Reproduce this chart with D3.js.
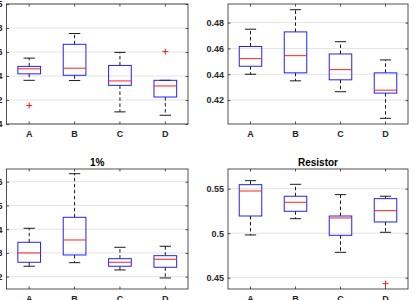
<!DOCTYPE html>
<html>
<head>
<meta charset="utf-8">
<script src="https://cdn.jsdelivr.net/npm/d3@7"></script>
<style>
  body { margin: 0; background: #fff; }
  svg { display: block; }
</style>
</head>
<body>
<svg id="chart" width="415" height="300"></svg>
<script>
// categories on every x axis
const categories = ["A", "B", "C", "D"];

// box stats per category: [lower whisker, q1, median, q3, upper whisker]
const topLeftStats = [
    [0.4364, 0.4418, 0.4460, 0.4480, 0.4549],
    [0.4362, 0.4406, 0.4465, 0.4664, 0.4754],
    [0.4101, 0.4322, 0.4359, 0.4488, 0.4597],
    [0.4073, 0.4225, 0.4317, 0.4364, 0.4364]
];
const topLeftOutliers = [["A", 0.4154], ["D", 0.4603]];
const topLeftTicks = [0.4, 0.42, 0.44, 0.46, 0.48, 0.5];
const topLeftRange = [0.4, 0.5];

const topRightStats = [
    [0.4400, 0.4462, 0.4521, 0.4615, 0.4749],
    [0.4349, 0.4411, 0.4544, 0.4728, 0.4900],
    [0.4265, 0.4357, 0.4436, 0.4557, 0.4652],
    [0.4059, 0.4254, 0.4277, 0.4411, 0.4511]
];
const topRightOutliers = [];
const topRightTicks = [0.42, 0.44, 0.46, 0.48];
const topRightRange = [0.4015, 0.4944];

const bottomLeftStats = [
    [0.2438, 0.2606, 0.2998, 0.3448, 0.4038],
    [0.2589, 0.2914, 0.3545, 0.4500, 0.6337],
    [0.2282, 0.2438, 0.2606, 0.2758, 0.3238],
    [0.1945, 0.2396, 0.2733, 0.2884, 0.3280]
];
const bottomLeftOutliers = [];
const bottomLeftTicks = [0.2, 0.3, 0.4, 0.5, 0.6];
const bottomLeftRange = [0.148, 0.6535];

const bottomRightStats = [
    [0.4980, 0.5193, 0.5474, 0.5545, 0.5590],
    [0.5163, 0.5246, 0.5347, 0.5415, 0.5549],
    [0.4785, 0.4976, 0.5171, 0.5193, 0.5433],
    [0.5010, 0.5126, 0.5253, 0.5388, 0.5415]
];
const bottomRightOutliers = [["D", 0.4433]];
const bottomRightTicks = [0.45, 0.5, 0.55];
const bottomRightRange = [0.4373, 0.5721];

const panels = [
    { stats: topLeftStats, outliers: topLeftOutliers, ticks: topLeftTicks, range: topLeftRange, title: "",
      left: 6.5, right: 188, top: 4, bottom: 124 },
    { stats: topRightStats, outliers: topRightOutliers, ticks: topRightTicks, range: topRightRange, title: "",
      left: 228, right: 408, top: 4, bottom: 124 },
    { stats: bottomLeftStats, outliers: bottomLeftOutliers, ticks: bottomLeftTicks, range: bottomLeftRange, title: "1%",
      left: 6.5, right: 188, top: 169, bottom: 289 },
    { stats: bottomRightStats, outliers: bottomRightOutliers, ticks: bottomRightTicks, range: bottomRightRange, title: "Resistor",
      left: 228, right: 408, top: 169, bottom: 289 }
];

const font = "'Liberation Sans', Arial, Helvetica, sans-serif";
const axisColor = "#262626";
const fmt = v => String(+v.toFixed(3));

const svg = d3.select("#chart");
svg.append("rect").attr("width", 415).attr("height", 300).attr("fill", "#fff");

panels.forEach(p => {
    const g = svg.append("g");

    const x = d3.scaleBand().domain(categories).range([p.left, p.right]).padding(0);
    const y = d3.scaleLinear().domain(p.range).range([p.bottom, p.top]);
    const bw = x.bandwidth();
    const cx = c => x(c) + bw / 2;

    // grid lines
    g.selectAll(".grid")
        .data(p.ticks)
        .enter()
        .append("line")
        .attr("class", "grid")
        .attr("x1", p.left).attr("x2", p.right)
        .attr("y1", d => y(d)).attr("y2", d => y(d))
        .attr("stroke", "#e3e3e3")
        .attr("stroke-width", 1);

    // axes, ticks pointing inward
    const styleAxis = sel => {
        sel.select(".domain").remove();
        sel.selectAll(".tick line").attr("stroke", axisColor).attr("stroke-width", 0.8);
        sel.selectAll("text")
            .attr("fill", axisColor)
            .style("font-family", font)
            .style("font-size", "9px")
            .style("font-weight", "bold");
    };
    g.append("g")
        .attr("transform", "translate(" + p.left + ",0)")
        .call(d3.axisLeft(y).tickValues(p.ticks).tickFormat(fmt).tickSizeInner(-2.5).tickSizeOuter(0).tickPadding(4))
        .call(styleAxis);
    g.append("g")
        .attr("transform", "translate(" + p.right + ",0)")
        .call(d3.axisRight(y).tickValues(p.ticks).tickFormat("").tickSizeInner(-2.5).tickSizeOuter(0))
        .call(styleAxis);
    g.append("g")
        .attr("transform", "translate(0," + p.bottom + ")")
        .call(d3.axisBottom(x).tickSizeInner(-2.5).tickSizeOuter(0).tickPadding(7))
        .call(styleAxis);
    g.append("g")
        .attr("transform", "translate(0," + p.top + ")")
        .call(d3.axisTop(x).tickFormat("").tickSizeInner(-2.5).tickSizeOuter(0))
        .call(styleAxis);

    // axes box
    g.append("rect")
        .attr("x", p.left).attr("y", p.top)
        .attr("width", p.right - p.left).attr("height", p.bottom - p.top)
        .attr("fill", "none")
        .attr("stroke", axisColor)
        .attr("stroke-width", 0.8);

    if (p.title) {
        g.append("text")
            .attr("x", (p.left + p.right) / 2)
            .attr("y", p.top - 3.5)
            .attr("text-anchor", "middle")
            .attr("fill", "#000")
            .style("font-family", font)
            .style("font-size", "10px")
            .style("font-weight", "bold")
            .text(p.title);
    }

    const boxes = g.selectAll(".box")
        .data(p.stats.map((s, i) => ({ cat: categories[i], lo: s[0], q1: s[1], med: s[2], q3: s[3], hi: s[4] })))
        .enter()
        .append("g")
        .attr("class", "box");

    // whiskers (dashed)
    boxes.append("line")
        .attr("x1", d => cx(d.cat)).attr("x2", d => cx(d.cat))
        .attr("y1", d => y(d.q3)).attr("y2", d => y(d.hi))
        .attr("stroke", "#000").attr("stroke-width", 0.9)
        .attr("stroke-dasharray", "3.5,2.5");
    boxes.append("line")
        .attr("x1", d => cx(d.cat)).attr("x2", d => cx(d.cat))
        .attr("y1", d => y(d.q1)).attr("y2", d => y(d.lo))
        .attr("stroke", "#000").attr("stroke-width", 0.9)
        .attr("stroke-dasharray", "3.5,2.5");

    // whisker caps
    ["hi", "lo"].forEach(k => {
        boxes.append("line")
            .attr("x1", d => cx(d.cat) - bw / 8).attr("x2", d => cx(d.cat) + bw / 8)
            .attr("y1", d => y(d[k])).attr("y2", d => y(d[k]))
            .attr("stroke", "#000").attr("stroke-width", 0.9);
    });

    // box
    boxes.append("rect")
        .attr("x", d => cx(d.cat) - bw / 4)
        .attr("y", d => y(d.q3))
        .attr("width", bw / 2)
        .attr("height", d => y(d.q1) - y(d.q3))
        .attr("fill", "none")
        .attr("stroke", "#2222ff")
        .attr("stroke-width", 1);

    // median
    boxes.append("line")
        .attr("x1", d => cx(d.cat) - bw / 4).attr("x2", d => cx(d.cat) + bw / 4)
        .attr("y1", d => y(d.med)).attr("y2", d => y(d.med))
        .attr("stroke", "#ff2020").attr("stroke-width", 1);

    // outliers as red plus signs
    g.selectAll(".outlier")
        .data(p.outliers)
        .enter()
        .append("path")
        .attr("class", "outlier")
        .attr("d", d => {
            const px = cx(d[0]), py = y(d[1]), s = 3;
            return "M" + (px - s) + "," + py + "H" + (px + s) + "M" + px + "," + (py - s) + "V" + (py + s);
        })
        .attr("stroke", "#ff0000")
        .attr("stroke-width", 0.9)
        .attr("fill", "none");
});
</script>
</body>
</html>
